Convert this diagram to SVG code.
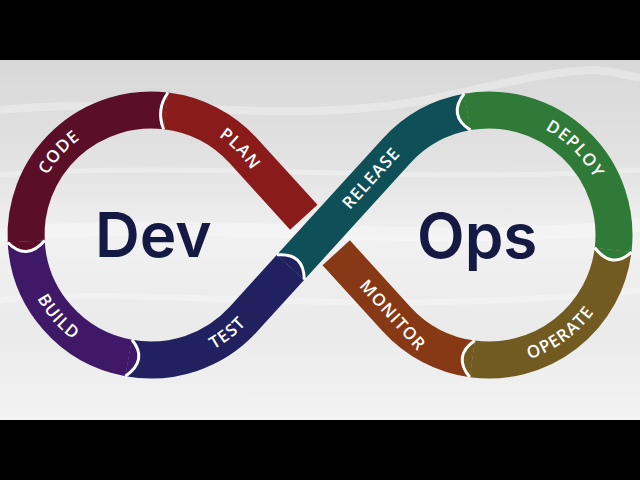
<svg xmlns="http://www.w3.org/2000/svg" xmlns:xlink="http://www.w3.org/1999/xlink" width="640" height="480" viewBox="0 0 640 480">
<defs>
<linearGradient id="bg" x1="0" y1="0" x2="0" y2="1">
<stop offset="0" stop-color="#d8d8d8"/>
<stop offset="0.3" stop-color="#e3e3e3"/>
<stop offset="0.5" stop-color="#f1f1f1"/>
<stop offset="0.75" stop-color="#eaeaea"/>
<stop offset="1" stop-color="#f3f3f3"/>
</linearGradient>
<path id="pCode" d="M34.1,210.15 A119,119 0 0 1 114.07,121.34"/>
<path id="pPlan" d="M183.94,120.13 A119,119 0 0 1 266.95,206.09"/>
<path id="pDeploy" d="M509.75,117.32 A119,119 0 0 1 606.68,214.25"/>
<path id="pOperate" d="M491.28,365.48 A131,131 0 0 0 612.39,277.49"/>
<path id="pTest" d="M157.83,365.32 A131,131 0 0 0 275.8,273.16"/>
<path id="pBuild" d="M21.31,249.55 A131,131 0 0 0 120.32,361.85"/>
</defs>
<style>
.band{fill:none;stroke-width:37;stroke-linecap:butt}
.lbl{font-family:"Open Sans","Liberation Sans",sans-serif;font-size:17px;font-weight:600;fill:#ffffff;letter-spacing:1px}
.big{font-family:Inter,"Liberation Sans",sans-serif;font-size:62px;font-weight:600;fill:#151a45}
.joint{fill:none;stroke:#ffffff;stroke-width:3}
.sw{fill:none;stroke:#ffffff}
</style>
<rect x="0" y="0" width="640" height="480" fill="#000"/>
<rect x="0" y="60" width="640" height="360" fill="url(#bg)"/>
<g id="background-swooshes" opacity="0.3">
<path class="sw" stroke-width="8" d="M0,110 C150,95 300,130 450,95 S600,70 640,78"/>
<path class="sw" stroke-width="5" d="M0,175 C200,160 420,185 640,170"/>
<path class="sw" stroke-width="14" d="M0,235 C200,215 430,250 640,225"/>
<path class="sw" stroke-width="6" d="M0,300 C160,285 350,320 640,290"/>
</g>

<g id="code">
<path class="band" stroke="#5a0e28" d="M165.8,110.9 A125,125 0 0 0 26.2,241.5"/>
<text class="lbl"><textPath xlink:href="#pCode" startOffset="50%" text-anchor="middle">CODE</textPath></text>
</g>
<g id="build">
<path class="band" stroke="#3f1968" d="M26.2,241.5 A125,125 0 0 0 128.65,358"/>
<text class="lbl"><textPath xlink:href="#pBuild" startOffset="50%" text-anchor="middle">BUILD</textPath></text>
</g>
<g id="test">
<path class="band" stroke="#20215e" d="M128.65,358 A125,125 0 0 0 243.45,319.13 L290.6,267.3"/>
<text class="lbl"><textPath xlink:href="#pTest" startOffset="50%" text-anchor="middle">TEST</textPath></text>
</g>
<g id="plan">
<path class="band" stroke="#8a1b1b" d="M303.8,217.2 L243.45,150.87 A125,125 0 0 0 165.8,110.9"/>
<text class="lbl"><textPath xlink:href="#pPlan" startOffset="50%" text-anchor="middle">PLAN</textPath></text>
</g>
<g id="monitor">
<path class="band" stroke="#873915" d="M336.2,252.8 L396.55,319.13 A125,125 0 0 0 472.25,358.9"/>
<text class="lbl" transform="translate(393,315) rotate(47.7)" x="0" y="6" text-anchor="middle">MONITOR</text>
</g>
<g id="release">
<path class="band" stroke="#0f4f57" d="M290.6,267.3 L396.55,150.87 A125,125 0 0 1 467.3,111.9"/>
<text class="lbl" transform="translate(371,178) rotate(-47.7)" x="0" y="6" text-anchor="middle">RELEASE</text>
</g>
<g id="deploy">
<path class="band" stroke="#2e7a36" d="M467.3,111.9 A125,125 0 0 1 613.1,250"/>
<text class="lbl"><textPath xlink:href="#pDeploy" startOffset="50%" text-anchor="middle">DEPLOY</textPath></text>
</g>
<g id="operate">
<path class="band" stroke="#725b21" d="M613.1,250 A125,125 0 0 1 472.25,358.9"/>
<text class="lbl"><textPath xlink:href="#pOperate" startOffset="50%" text-anchor="middle">OPERATE</textPath></text>
</g>

<g id="connectors">
<path fill="#8a1b1b" d="M168,92.5 Q155.8,109.7 163.6,129.3 Z"/>
<path class="joint" d="M168,92.5 Q155.8,109.7 163.6,129.3"/>
<path fill="#5a0e28" d="M7.73,242.47 Q26.72,261.49 44.67,240.53 Z"/>
<path class="joint" d="M7.73,242.47 Q26.72,261.49 44.67,240.53"/>
<path fill="#3f1968" d="M125.34,376.2 Q148.5,359.8 131.96,339.8 Z"/>
<path class="joint" d="M125.34,376.2 Q148.5,359.8 131.96,339.8"/>
<path fill="#20215e" d="M304.3,279.75 Q304,252.5 276.9,254.85 Z"/>
<path class="joint" d="M304.3,279.75 Q304,252.5 276.9,254.85"/>
<path fill="#2e7a36" d="M464.09,93.68 Q447.6,115.4 470.51,130.12 Z"/>
<path class="joint" d="M464.09,93.68 Q447.6,115.4 470.51,130.12"/>
<path fill="#2e7a36" d="M631.47,252.22 Q611.9,269.9 594.73,247.78 Z"/>
<path class="joint" d="M631.47,252.22 Q611.9,269.9 594.73,247.78"/>
<path fill="#725b21" d="M469.77,377.23 Q452.4,356.2 474.73,340.57 Z"/>
<path class="joint" d="M469.77,377.23 Q452.4,356.2 474.73,340.57"/>
</g>

<g id="dev"><text class="big" x="95" y="257">Dev</text></g>
<g id="ops"><text class="big" x="417" y="258">Ops</text></g>
</svg>
